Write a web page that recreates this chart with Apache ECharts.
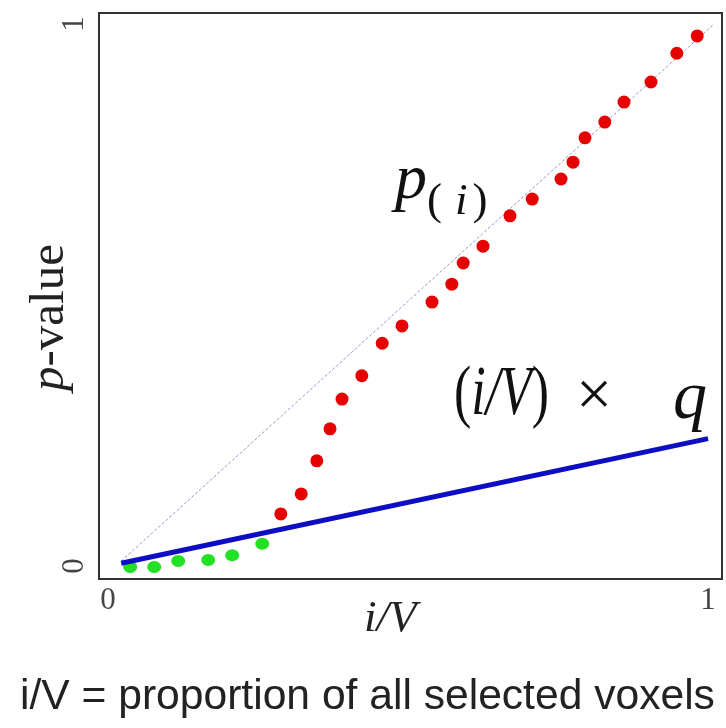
<!DOCTYPE html>
<html>
<head>
<meta charset="utf-8">
<script src="https://cdn.jsdelivr.net/npm/echarts@6/dist/echarts.min.js"></script>
<style>html,body{margin:0;padding:0;background:#fff;}#c{width:726px;height:728px;}</style>
</head>
<body>
<div id="c"></div>
<script>
// proportion i/V and p-values of the significant (green) voxels
const iV_green = [0.037, 0.077, 0.117, 0.167, 0.207, 0.257];
const p_green  = [-0.002, -0.002, 0.009, 0.011, 0.020, 0.041];
// proportion i/V and p-values of the non-significant (red) voxels
const iV_red = [0.288, 0.322, 0.348, 0.370, 0.390, 0.423, 0.457, 0.490, 0.540, 0.573, 0.592,
                0.625, 0.670, 0.707, 0.755, 0.775, 0.795, 0.828, 0.860, 0.905, 0.948, 0.982];
const p_red  = [0.096, 0.133, 0.194, 0.253, 0.308, 0.351, 0.411, 0.443, 0.487, 0.520, 0.559,
                0.590, 0.646, 0.677, 0.714, 0.745, 0.790, 0.819, 0.856, 0.893, 0.946, 0.978];
// diagonal reference y = x
const diag_x = [0.022, 1.008];
const diag_y = [0.009, 0.998];
// threshold line (i/V) x q
const q = 0.235;
const thr_x = [0.022, 1.0];
const thr_y = thr_x.map(v => v * q);
// tick labels
const xTicks = [0, 1];
const yTicks = [0, 1];

const zip = (a, b) => a.map((v, i) => [v, b[i]]);
const serif = '"Liberation Serif", "DejaVu Serif", serif';

const chart = echarts.init(document.getElementById('c'));
chart.setOption({
  animation: false,
  backgroundColor: '#fff',
  grid: { left: 99, right: 4, top: 13, bottom: 149, show: true, borderColor: '#333', borderWidth: 2, backgroundColor: 'transparent' },
  xAxis: {
    type: 'value', min: -0.015, max: 1.0233,
    axisLine: { show: false }, axisTick: { show: false }, splitLine: { show: false },
    axisLabel: { customValues: xTicks, fontFamily: serif, fontSize: 31, color: '#444', margin: 6 }
  },
  yAxis: {
    type: 'value', min: -0.024, max: 1.0203,
    axisLine: { show: false }, axisTick: { show: false }, splitLine: { show: false },
    axisLabel: { customValues: yTicks, fontFamily: serif, fontSize: 31, color: '#444', margin: 9, rotate: 90 }
  },
  series: [
    { type: 'line', data: zip(diag_x, diag_y), symbol: 'none', z: 1,
      lineStyle: { color: '#8f9ccf', width: 1, type: [3, 2] } },
    { type: 'scatter', data: zip(iV_red, p_red), symbolSize: 13, z: 3,
      itemStyle: { color: '#e60000', opacity: 1 } },
    { type: 'scatter', data: zip(iV_green, p_green), symbolSize: [14, 12], z: 3,
      itemStyle: { color: '#22e022', opacity: 1 } },
    { type: 'line', data: zip(thr_x, thr_y), symbol: 'none', z: 4,
      lineStyle: { color: '#0d0dc4', width: 5 } }
  ],
  graphic: [
    { type: 'text', left: 395, top: 149, z: 10,
      style: { text: 'p', font: 'italic 64px ' + serif, fill: '#111' } },
    { type: 'text', left: 427, top: 180, z: 10,
      style: { text: '{n|(}{i|i}{n|)}', rich: { n: { fontFamily: serif, fontSize: 45, fill: '#111' }, i: { fontFamily: serif, fontStyle: 'italic', fontSize: 45, fill: '#111', padding: [0, 5, 0, 13] } } } },
    { type: 'text', x: 454, y: 361, scaleX: 0.74, z: 10,
      style: { text: '{n|(}{i|i/V}{n|)}', rich: { n: { fontFamily: serif, fontSize: 70, fill: '#111' }, i: { fontFamily: serif, fontStyle: 'italic', fontSize: 70, fill: '#111' } } } },
    { type: 'text', x: 576, y: 366, z: 10,
      style: { text: '×', font: '64px ' + serif, fill: '#111' } },
    { type: 'text', x: 673, y: 366, z: 10,
      style: { text: 'q', font: 'italic 68px ' + serif, fill: '#111' } },
    { type: 'text', left: 364, top: 597, z: 10,
      style: { text: 'i/V', font: 'italic 45px ' + serif, fill: '#222' } },
    { type: 'text', x: 26, y: 391, rotation: Math.PI / 2, z: 10,
      style: { text: '{i|p}{n|-value}', rich: { n: { fontFamily: serif, fontSize: 49, fill: '#222' }, i: { fontFamily: serif, fontStyle: 'italic', fontSize: 49, fill: '#222' } } } },
    { type: 'text', left: 20, top: 676, z: 10,
      style: { text: 'i/V = proportion of all selected voxels', font: '42.6px "Liberation Sans", Arial, sans-serif', fill: '#222' } }
  ]
});
</script>
</body>
</html>
